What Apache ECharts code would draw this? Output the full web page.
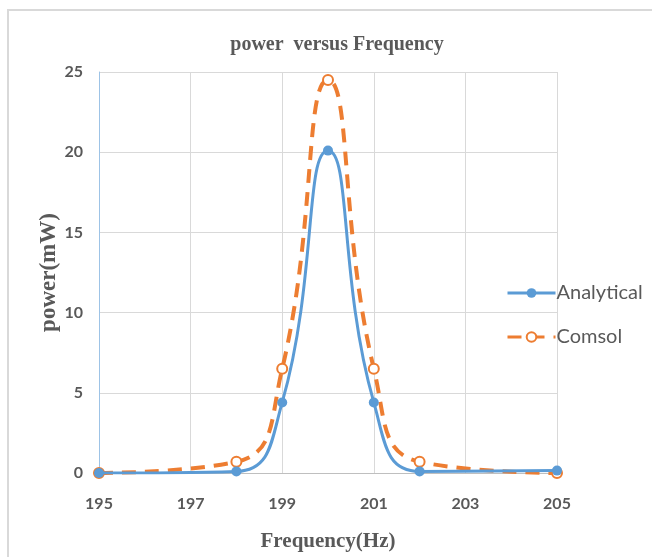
<!DOCTYPE html>
<html>
<head>
<meta charset="utf-8">
<script src="https://cdn.jsdelivr.net/npm/echarts@6/dist/echarts.min.js"></script>
<style>
html,body{margin:0;padding:0;background:#fff;}
#chart{width:652px;height:557px;}
</style>
</head>
<body>
<div id="chart"></div>
<script>
var frequency = [195, 198, 199, 200, 201, 202, 205];
var analytical = [0, 0.1, 4.4, 20.1, 4.4, 0.1, 0.15];
var comsol = [0, 0.7, 6.5, 24.5, 6.5, 0.7, 0];
var yTicks = [0, 5, 10, 15, 20, 25];
var xTicks = [195, 197, 199, 201, 203, 205];

function pairs(xs, ys) { return xs.map(function (x, i) { return [x, ys[i]]; }); }

var chart = echarts.init(document.getElementById('chart'));
var gray = '#595959';
var tickFont = { color: gray, fontSize: 16, fontWeight: 'bold', fontFamily: 'Lato, "Liberation Sans", sans-serif' };
chart.setOption({
  animation: false,
  backgroundColor: '#fff',
  graphic: [{
    type: 'polyline',
    shape: { points: [[8, 557], [8, 10], [652, 10]] },
    style: { stroke: '#d9d9d9', lineWidth: 2, fill: null }
  }],
  title: {
    text: 'power  versus Frequency',
    left: 332, top: 30, textAlign: 'center',
    textStyle: { color: gray, fontSize: 20, fontWeight: 'bold', fontFamily: '"Liberation Serif", serif' }
  },
  legend: {
    orient: 'vertical',
    left: 501, top: 278,
    itemWidth: 48, itemHeight: 12, itemGap: 24,
    lineStyle: { width: 3 },
    textStyle: { color: gray, fontSize: 20, padding: [0, 0, 0, -4], fontFamily: 'Lato, "Liberation Sans", sans-serif' },
    data: ['Analytical', 'Comsol']
  },
  grid: { left: 99, right: 95, top: 72, bottom: 81 },
  xAxis: {
    type: 'value', min: xTicks[0], max: xTicks[xTicks.length - 1], interval: 2,
    name: 'Frequency(Hz)', nameLocation: 'middle', nameGap: 58,
    nameTextStyle: { color: gray, fontSize: 21, fontWeight: 'bold', fontFamily: '"Liberation Serif", serif' },
    axisLine: { lineStyle: { color: '#bfbfbf', width: 1 } },
    axisTick: { show: false },
    axisLabel: Object.assign({ margin: 23 }, tickFont),
    splitLine: { show: true, lineStyle: { color: '#d9d9d9' } }
  },
  yAxis: {
    type: 'value', min: yTicks[0], max: yTicks[yTicks.length - 1], interval: 5,
    name: 'power(mW)', nameLocation: 'middle', nameGap: 38, nameRotate: 90,
    nameMoveOverlap: false,
    nameTextStyle: { color: gray, fontSize: 23, fontWeight: 'bold', fontFamily: '"Liberation Serif", serif' },
    axisLine: { show: true, lineStyle: { color: '#9dc3e6', width: 1 } },
    axisTick: { show: false },
    axisLabel: Object.assign({ margin: 16 }, tickFont),
    splitLine: { show: true, lineStyle: { color: '#d9d9d9' } }
  },
  series: [{
    name: 'Analytical', type: 'line', smooth: 0.5,
    data: pairs(frequency, analytical),
    symbol: 'circle', symbolSize: 10,
    itemStyle: { color: '#5b9bd5' },
    lineStyle: { color: '#5b9bd5', width: 3 },
    z: 3
  }, {
    name: 'Comsol', type: 'line', smooth: 0.5,
    data: pairs(frequency, comsol),
    symbol: 'circle', symbolSize: 10,
    itemStyle: { color: '#fff', borderColor: '#ed7d31', borderWidth: 2 },
    lineStyle: { color: '#ed7d31', width: 4, type: [14, 9] },
    z: 2
  }]
});
</script>
</body>
</html>
